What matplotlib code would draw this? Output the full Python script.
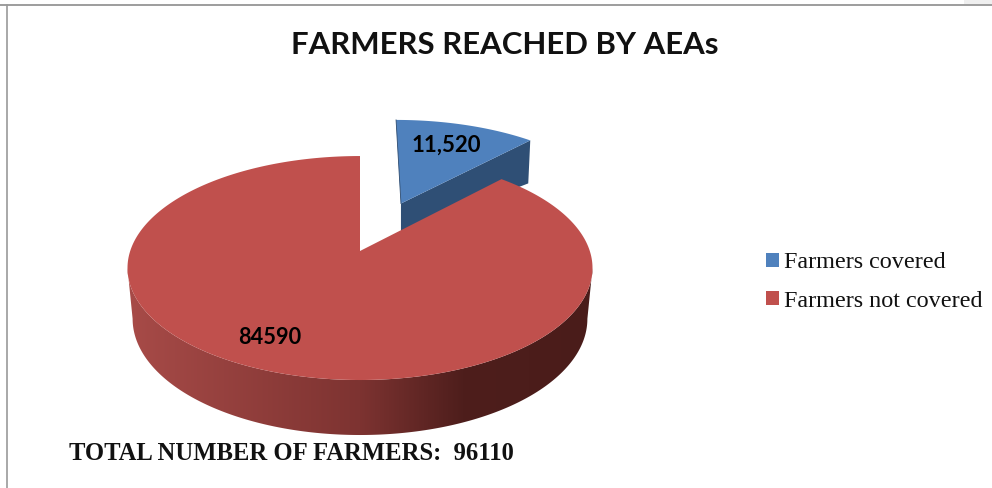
import matplotlib
matplotlib.use("Agg")
import matplotlib.pyplot as plt
import numpy as np
from matplotlib.colors import LinearSegmentedColormap
from matplotlib.patches import Patch, Polygon, Rectangle

categories = ["Farmers covered", "Farmers not covered"]
farmers = [11520, 84590]
value_labels = ["11,520", "84590"]
total = 96110
title = "FARMERS REACHED BY AEAs"

BLUE = "#4F81BD"
BLUE_SIDE = "#2F4F75"
RED = "#C0504D"

# pie layout, in pixels
CX, CY = 360, 251
RX, RY = 229.8, 109.4
PERSP = 0.152
EXPLODE = 0.50


def project(u, v, shift=0):
    # disc coordinates to the tilted top face
    d = 1 + PERSP * v
    return CX + shift + RX * u / d, CY - RY * v / d


def base(u, v, depth=50, tilt=5, shrink=0.978, shift=0):
    # same point on the bottom face of the slab
    x, y = project(u, v)
    return CX + shift + shrink * (x - CX), y + depth - tilt * v


def sector(start, end, n=300):
    t = np.radians(np.linspace(start, end, n))
    return np.sin(t), np.cos(t)


fig = plt.figure(figsize=(9.92, 4.88), dpi=100)
ax = fig.add_axes([0, 0, 1, 1])

angle = 360 * farmers[0] / total

# blue slice, pulled out along its middle
mid = np.radians(angle / 2)
du, dv = EXPLODE * np.sin(mid), EXPLODE * np.cos(mid)
corner = (np.sin(np.radians(angle)) + du, np.cos(np.radians(angle)) + dv)

wall = [project(du, dv, 1.5), project(*corner, 1.5),
        base(*corner, depth=43, tilt=0, shrink=0.988, shift=1.5),
        base(du, dv, depth=29, tilt=0, shrink=1.0, shift=1.5)]
ax.add_patch(Polygon(wall, fc=BLUE_SIDE, ec="none", zorder=2))

u, v = sector(0, angle)
bx, by = project(u + du, v + dv, 1.5)
apex = project(du, dv, 1.5)
ax.add_patch(Polygon(np.column_stack([np.r_[apex[0], bx], np.r_[apex[1], by]]),
                     fc=BLUE, ec="none", zorder=3))
ax.plot([apex[0], bx[0]], [apex[1], by[0]], color="#2c4a6e", lw=0.6, zorder=3)

# red slab side, shaded from left to right; runs between the widest points of the rim
widest = np.degrees(np.arccos(-PERSP))
u, v = sector(widest, 360 - widest)
tx, ty = project(u, v)
lx, ly = base(u, v)
outline = np.column_stack([np.r_[tx, lx[::-1]], np.r_[ty, ly[::-1]]])
shade = LinearSegmentedColormap.from_list(
    "side", [(0, "#A84B48"), (0.5, "#7D3331"), (0.72, "#4E1E1C"), (1, "#4A1C1A")])
img = ax.imshow(np.linspace(0, 1, 256)[None, :], cmap=shade, aspect="auto",
                extent=[125, 595, 440, 260], zorder=4)
clip = Polygon(outline, transform=ax.transData, fc="none", ec="none")
ax.add_patch(clip)
img.set_clip_path(clip)

# red top face
u, v = sector(angle, 360)
rx, ry = project(u, v)
ax.add_patch(Polygon(np.column_stack([np.r_[CX, rx], np.r_[CY, ry]]),
                     fc=RED, ec="none", zorder=5))

ax.text(446, 145, value_labels[0], fontsize=16, fontweight="bold", family="Lato",
        ha="center", va="center", zorder=6)
ax.text(270, 337, value_labels[1], fontsize=15.7, fontweight="bold", family="Lato",
        ha="center", va="center", zorder=6)

ax.text(505, 45, title, fontsize=22.4, fontweight="bold", family="Lato",
        ha="center", va="center", color="#111111")
ax.text(69, 453.5, f"TOTAL NUMBER OF FARMERS:  {total}", fontsize=17.7, fontweight="bold",
        family="Liberation Serif", ha="left", va="center", color="#111111")

handles = [Patch(fc=BLUE, label=categories[0]), Patch(fc=RED, label=categories[1])]
ax.legend(handles=handles, loc="center left", bbox_to_anchor=(766, 282),
          bbox_transform=ax.transData, frameon=False, handlelength=0.54, handleheight=0.54,
          handletextpad=0.2, labelspacing=0.72, borderpad=0, borderaxespad=0,
          prop={"family": "Liberation Serif", "size": 17.4}, labelcolor="#111111")

# page frame
ax.add_patch(Rectangle((964, 0), 28, 4, fc="#EFEFEF", ec="none"))
ax.plot([0, 992], [4.5, 4.5], color="#8C8C8C", lw=1.2)
ax.plot([6.5, 6.5], [4.5, 488], color="#9A9A9A", lw=1.2)

ax.set_xlim(0, 992)
ax.set_ylim(488, 0)
ax.axis("off")

fig.savefig("out.png", dpi=100)
